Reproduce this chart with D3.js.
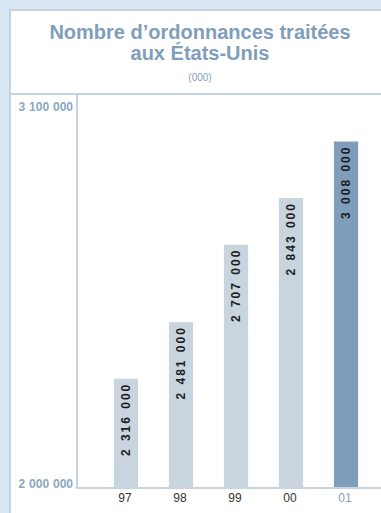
<!DOCTYPE html>
<html><head><meta charset="utf-8">
<script src="https://cdn.jsdelivr.net/npm/d3@7/dist/d3.min.js"></script>
<style>
html,body{margin:0;padding:0;background:#d8e6f3;}
svg{display:block;font-family:"Liberation Sans",Arial,Helvetica,sans-serif;}
</style></head>
<body>
<script>
const categories = ["97", "98", "99", "00", "01"];
const values = [2316000, 2481000, 2707000, 2843000, 3008000];
const valueLabels = ["2 316 000", "2 481 000", "2 707 000", "2 843 000", "3 008 000"];
const yTicks = [2000000, 3100000];
const yTickLabels = ["2 000 000", "3 100 000"];
const titleLines = ["Nombre d’ordonnances traitées", "aux États-Unis"];
const unitLabel = "(000)";

const W = 381, H = 513;
const svg = d3.select("body").append("svg").attr("width", W).attr("height", H);

const titleColor = "#7f9ebb";
const lineColor = "#c7d4df";

// panel
svg.append("rect").attr("x", 10).attr("y", 10).attr("width", W).attr("height", H)
  .attr("fill", "#fff").attr("stroke", lineColor).attr("stroke-width", 2);

// title
svg.append("text").attr("x", 200).attr("y", 39).attr("text-anchor", "middle")
  .attr("font-size", 20).attr("font-weight", "bold").attr("fill", titleColor).text(titleLines[0]);
svg.append("text").attr("x", 200).attr("y", 60).attr("text-anchor", "middle")
  .attr("font-size", 20).attr("font-weight", "bold").attr("fill", titleColor).text(titleLines[1]);
svg.append("text").attr("x", 200).attr("y", 81).attr("text-anchor", "middle")
  .attr("font-size", 10).attr("fill", titleColor).text(unitLabel);

// header separator
svg.append("line").attr("x1", 10).attr("x2", W).attr("y1", 94).attr("y2", 94)
  .attr("stroke", lineColor).attr("stroke-width", 2);

const y = d3.scaleLinear().domain([2000000, 3100000]).range([487, 110]);
const x = d3.scaleBand().domain(categories).range([98.5, 373.5]).paddingInner(0.56).paddingOuter(0.28);

// axes lines
svg.append("line").attr("x1", 77).attr("x2", 77).attr("y1", 94).attr("y2", 488)
  .attr("stroke", lineColor).attr("stroke-width", 2);
svg.append("line").attr("x1", 76).attr("x2", W).attr("y1", y(2000000) + 1).attr("y2", y(2000000) + 1)
  .attr("stroke", lineColor).attr("stroke-width", 2);

// y tick labels
svg.selectAll(".yl").data(yTicks).join("text")
  .attr("x", 73).attr("y", d => y(d) + 1)
  .attr("text-anchor", "end").attr("font-size", 12).attr("font-weight", "bold").attr("word-spacing", 0.5)
  .attr("fill", "#8ba7c1").text((d, i) => yTickLabels[i]);

// bars
svg.selectAll(".bar").data(values).join("rect")
  .attr("x", (d, i) => x(categories[i])).attr("width", x.bandwidth())
  .attr("y", d => y(d)).attr("height", d => y(2000000) - y(d))
  .attr("fill", (d, i) => i === values.length - 1 ? "#7f9ebb" : "#c8d5df");

// value labels
svg.selectAll(".vl").data(values).join("text")
  .attr("transform", (d, i) => `translate(${x(categories[i]) + x.bandwidth() / 2 + 4},${y(d) + 4}) rotate(-90)`)
  .attr("text-anchor", "end").attr("font-size", 12).attr("font-weight", "bold")
  .attr("letter-spacing", 2).attr("word-spacing", 1).attr("fill", "#1c1c1c")
  .text((d, i) => valueLabels[i]);

// x labels
svg.selectAll(".xl").data(categories).join("text")
  .attr("x", d => x(d) + x.bandwidth() / 2 - 1).attr("y", 502)
  .attr("text-anchor", "middle").attr("font-size", 12)
  .attr("fill", (d, i) => i === categories.length - 1 ? "#7f9ebb" : "#333")
  .text(d => d);
</script>
</body></html>
